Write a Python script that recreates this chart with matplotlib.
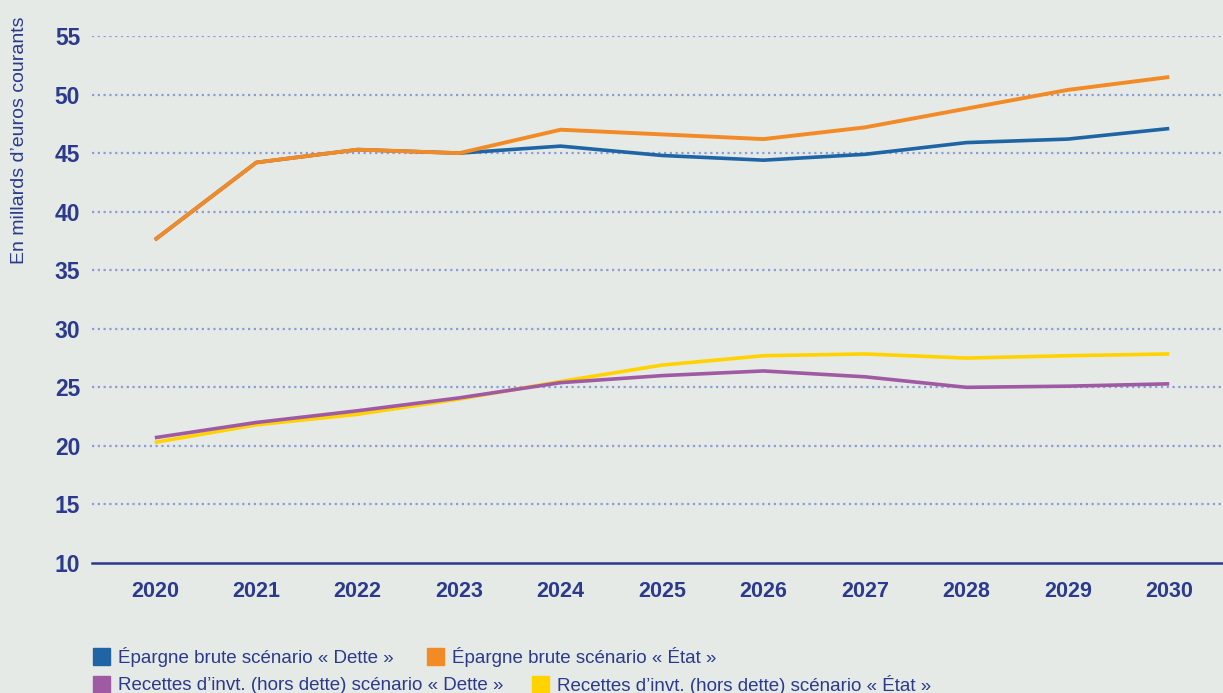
import matplotlib.pyplot as plt
from matplotlib.patches import Rectangle

# Data
years = [2020, 2021, 2022, 2023, 2024, 2025, 2026, 2027, 2028, 2029, 2030]
epargne_dette = [37.6, 44.2, 45.3, 45.0, 45.6, 44.8, 44.4, 44.9, 45.9, 46.2, 47.1]
epargne_etat = [37.6, 44.2, 45.3, 45.0, 47.0, 46.6, 46.2, 47.2, 48.8, 50.4, 51.5]
recettes_dette = [20.7, 22.0, 23.0, 24.1, 25.4, 26.0, 26.4, 25.9, 25.0, 25.1, 25.3]
recettes_etat = [20.3, 21.8, 22.7, 24.0, 25.5, 26.9, 27.7, 27.85, 27.5, 27.7, 27.85]
yticks = [10, 15, 20, 25, 30, 35, 40, 45, 50, 55]

labels = ["Épargne brute scénario « Dette »", "Épargne brute scénario « État »",
          "Recettes d\u2019invt. (hors dette) scénario « Dette »",
          "Recettes d\u2019invt. (hors dette) scénario « État »"]
colors = ["#1f65a6", "#f28a25", "#a05aa3", "#ffd200"]

bg = "#e5eae6"
navy = "#2b3a8c"
plt.rcParams['font.family'] = ['Liberation Sans', 'DejaVu Sans']

fig = plt.figure(figsize=(12.23, 6.93), dpi=100, facecolor=bg)
ax = fig.add_axes([0.0752, 0.1876, 0.9248, 0.7604], facecolor=bg)

ax.plot(years, epargne_dette, color=colors[0], lw=2.6, solid_capstyle="butt", zorder=3)
ax.plot(years, epargne_etat, color=colors[1], lw=2.8, solid_capstyle="butt", zorder=4)
ax.plot(years, recettes_etat, color=colors[3], lw=2.6, solid_capstyle="butt", zorder=3)
ax.plot(years, recettes_dette, color=colors[2], lw=2.6, solid_capstyle="butt", zorder=4)

ax.set_ylim(10, 55)
ax.set_xlim(2019.38, 2030.53)
ax.set_yticks(yticks)
ax.set_xticks(years)
ax.tick_params(length=0, colors=navy)
ax.tick_params(axis="y", labelsize=16.5, pad=8.5)
ax.tick_params(axis="x", labelsize=15.5, pad=13)
for lab in ax.get_xticklabels() + ax.get_yticklabels():
    lab.set_fontweight("bold")

for y in yticks[1:]:
    ax.axhline(y, color="#8b9cd6", lw=1.6, ls=(0, (1, 1.6)), zorder=1)

for s in ["top", "right", "left"]:
    ax.spines[s].set_visible(False)
ax.spines["bottom"].set_color(navy)
ax.spines["bottom"].set_linewidth(1.8)

fig.text(0.016, 0.798, "En millards d\u2019euros courants", rotation=90,
         color=navy, fontsize=14, ha="center", va="center")

# legend drawn by hand
W, H = 1223, 693
entries = [(93, 648, 0), (427, 648, 1), (93, 676, 2), (532, 676, 3)]
for x, y, i in entries:
    fig.patches.append(Rectangle((x / W, 1 - (y + 17) / H), 17 / W, 17 / H,
                                 transform=fig.transFigure, color=colors[i]))
    fig.text((x + 25) / W, 1 - (y + 9) / H, labels[i], color=navy,
             fontsize=13.5, ha="left", va="center")

fig.savefig("out.png", dpi=100, facecolor=bg)
